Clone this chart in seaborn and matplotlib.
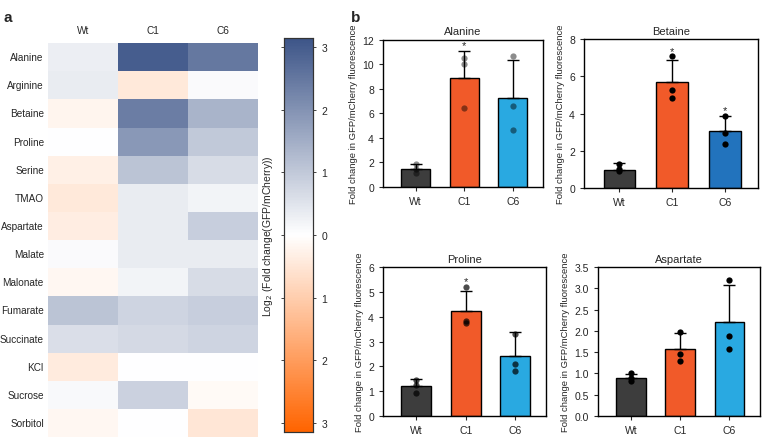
import numpy as np
import pandas as pd
import seaborn as sns
import matplotlib.pyplot as plt
from matplotlib.colors import LinearSegmentedColormap
from matplotlib.ticker import FuncFormatter

sns.set_style("white")
plt.rcParams['font.family'] = ['Liberation Sans', 'DejaVu Sans']

# heatmap data: log2 fold change
strains = ["Wt", "C1", "C6"]
compounds = ["Alanine", "Arginine", "Betaine", "Proline", "Serine", "TMAO", "Aspartate",
             "Malate", "Malonate", "Fumarate", "Succinate", "KCl", "Sucrose", "Sorbitol"]
log2_wt = [0.3, 0.35, -0.2, 0.0, -0.3, -0.45, -0.35, 0.08, -0.15, 1.1, 0.6, -0.4, 0.12, -0.15]
log2_c1 = [3.0, -0.45, 2.4, 1.9, 1.1, 0.35, 0.35, 0.35, 0.2, 0.8, 0.7, 0.0, 0.85, 0.0]
log2_c6 = [2.5, 0.08, 1.4, 1.0, 0.65, 0.2, 0.9, 0.35, 0.65, 0.9, 0.8, 0.0, -0.12, -0.5]

# bar panels: means, upper errors, replicate points
alanine_mean = [1.5, 8.93, 7.27]
alanine_err = [0.38, 2.2, 3.07]
alanine_pts = [[1.85, 1.14, 1.5], [10.5, 10.0, 6.48], [10.69, 6.59, 4.68]]

betaine_mean = [0.98, 5.71, 3.04]
betaine_err = [0.38, 1.18, 0.85]
betaine_pts = [[1.29, 0.89, 1.0], [7.09, 5.27, 4.84], [3.89, 2.96, 2.34]]

proline_mean = [1.21, 4.25, 2.41]
proline_err = [0.3, 0.8, 0.96]
proline_pts = [[1.25, 0.94, 1.45], [5.22, 3.84, 3.73], [3.3, 2.09, 1.81]]

aspartate_mean = [0.9, 1.58, 2.22]
aspartate_err = [0.09, 0.38, 0.87]
aspartate_pts = [[1.0, 0.9, 0.82], [1.98, 1.47, 1.3], [3.21, 1.88, 1.58]]

fig = plt.figure(figsize=(7.62, 4.39), dpi=100)

# ---- panel a: heatmap
cmap = LinearSegmentedColormap.from_list("og_bl", ["#ff6400", "#ffffff", "#3d5588"])
hm = pd.DataFrame({"Wt": log2_wt, "C1": log2_c1, "C6": log2_c6}, index=compounds)[strains]

ax_hm = fig.add_axes([0.063, 0.002, 0.2756, 0.8975])
ax_cb = fig.add_axes([0.3727, 0.0137, 0.038, 0.8975])
sns.heatmap(hm, ax=ax_hm, cbar_ax=ax_cb, cmap=cmap, vmin=-3.15, vmax=3.15,
            linewidths=0)
ax_hm.xaxis.tick_top()
ax_hm.tick_params(axis="x", length=0, labelsize=7.3, pad=6)
ax_hm.tick_params(axis="y", length=0, labelsize=7.2, pad=3)
ax_hm.set_yticklabels(compounds, rotation=0)
ax_hm.set_xticklabels(strains, rotation=0)
ax_hm.set_xlabel("")
ax_hm.set_ylabel("")

ax_cb.set_yticks([-3, -2, -1, 0, 1, 2, 3])
ax_cb.yaxis.set_major_formatter(FuncFormatter(lambda v, p: f"{abs(v):g}"))
ax_cb.tick_params(left=True, right=True, direction='inout', length=5, width=0.6, labelsize=7.5)
ax_cb.set_ylabel("Log$_2$ (Fold change(GFP/mCherry))", fontsize=7.5)
ax_cb.yaxis.set_label_position('left')
for s in ax_cb.spines.values():
    s.set_visible(True)
    s.set_linewidth(0.8)
    s.set_color("#333333")

fig.text(0.004, 0.975, "a", fontsize=11, fontweight="bold", va="top")
fig.text(0.461, 0.975, "b", fontsize=11, fontweight="bold", va="top")

# ---- panel b: bar charts
def bar_panel(rect, title, means, errs, pts, ylim, yticks, colors, stars,
              pt_color="black", pt_alpha=1.0, tick_fmt="{:g}"):
    ax = fig.add_axes(rect)
    sns.barplot(x=strains, y=means, hue=strains, palette=colors, legend=False, saturation=1,
                width=0.6, edgecolor="black", linewidth=1, ax=ax)
    ax.errorbar(range(3), means, yerr=[[0, 0, 0], errs], fmt="none",
                ecolor="black", elinewidth=1, capsize=4, capthick=1)
    long = pd.DataFrame([(strains[i], v) for i in range(3) for v in pts[i]], columns=["strain", "val"])
    sns.stripplot(data=long, x="strain", y="val", order=strains, jitter=False,
                  color=pt_color, alpha=pt_alpha, size=4.5, ax=ax, zorder=5)
    # significance stars just above the highest mark
    for i in stars:
        top = max(means[i] + errs[i], max(pts[i]))
        ax.annotate("*", xy=(i, top), xytext=(0, 1.5), textcoords="offset points",
                    ha="center", va="baseline", fontsize=8)
    ax.set_xlim(-0.67, 2.62)
    ax.set_ylim(0, ylim)
    ax.set_yticks(yticks)
    ax.set_yticklabels([tick_fmt.format(t) for t in yticks])
    ax.set_title(title, fontsize=8, pad=4)
    ax.set_xlabel("")
    ax.set_ylabel("Fold change in GFP/mCherry fluorescence", fontsize=6.8, labelpad=3)
    ax.tick_params(axis="both", labelsize=7.5, direction="out", length=3, width=0.8,
                   left=True, bottom=True)
    for s in ax.spines.values():
        s.set_visible(True)
        s.set_linewidth(1)
        s.set_color("black")
    return ax

c_wt, c_c1, c_c6 = "#3d3d3d", "#f15a29", "#29a9e1"

bar_panel([0.5026, 0.5718, 0.21, 0.335], "Alanine", alanine_mean, alanine_err, alanine_pts,
          12, [0, 2, 4, 6, 8, 10, 12], [c_wt, c_c1, c_c6], [1], pt_color="black", pt_alpha=0.45)
bar_panel([0.7664, 0.5695, 0.228, 0.339], "Betaine", betaine_mean, betaine_err, betaine_pts,
          8, [0, 2, 4, 6, 8], [c_wt, c_c1, "#2273bd"], [1, 2])
bar_panel([0.5026, 0.0501, 0.214, 0.339], "Proline", proline_mean, proline_err, proline_pts,
          6, [0, 1, 2, 3, 4, 5, 6], [c_wt, c_c1, c_c6], [1], pt_color="black", pt_alpha=0.7)
bar_panel([0.7848, 0.0501, 0.2126, 0.339], "Aspartate", aspartate_mean, aspartate_err, aspartate_pts,
          3.5, [0, 0.5, 1, 1.5, 2, 2.5, 3, 3.5], [c_wt, c_c1, c_c6], [], tick_fmt="{:.1f}")

fig.savefig("out.png", dpi=100)
